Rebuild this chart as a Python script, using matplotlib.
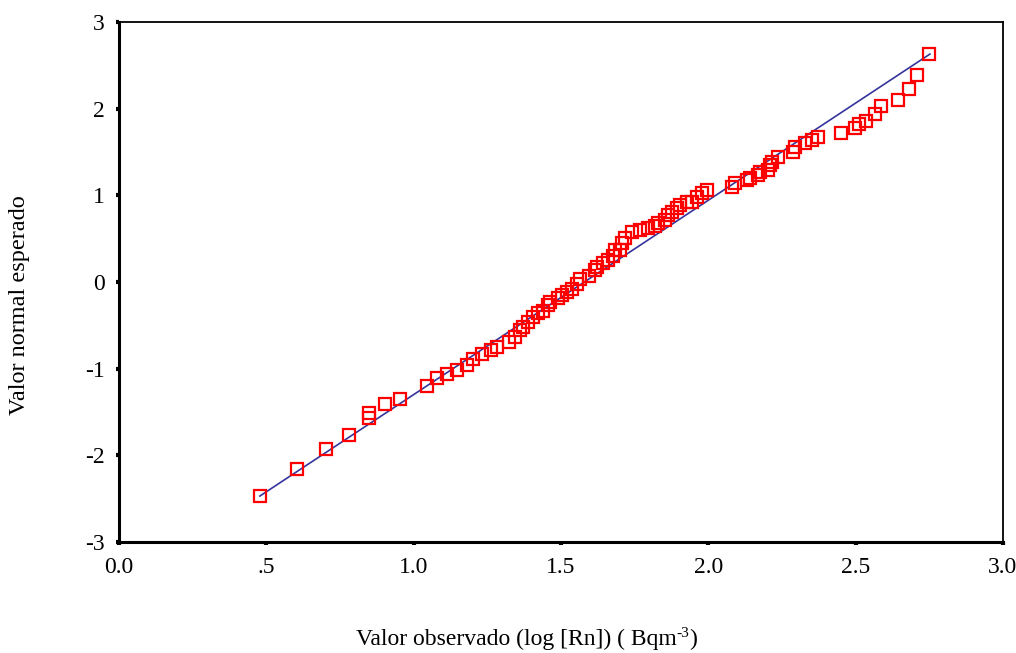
import matplotlib
matplotlib.use("Agg")
import matplotlib.pyplot as plt

observed = [0.478, 0.604, 0.702, 0.781, 0.848, 0.848, 0.903, 0.954, 1.045, 1.079,
            1.113, 1.147, 1.181, 1.201, 1.232, 1.262, 1.283, 1.324, 1.344, 1.361,
            1.371, 1.388, 1.405, 1.422, 1.439, 1.456, 1.463, 1.490, 1.503, 1.520,
            1.537, 1.554, 1.564, 1.595, 1.615, 1.622, 1.643, 1.659, 1.676, 1.683,
            1.700, 1.707, 1.717, 1.741, 1.768, 1.795, 1.819, 1.829, 1.853, 1.863,
            1.877, 1.894, 1.904, 1.928, 1.945, 1.962, 1.978, 1.995, 2.080, 2.090,
            2.131, 2.141, 2.169, 2.175, 2.202, 2.209, 2.216, 2.236, 2.287, 2.294,
            2.328, 2.352, 2.372, 2.450, 2.498, 2.511, 2.535, 2.566, 2.586, 2.644,
            2.681, 2.708, 2.749]
expected = [-2.47, -2.16, -1.93, -1.77, -1.51, -1.57, -1.41, -1.35, -1.20, -1.11,
            -1.06, -1.02, -0.96, -0.89, -0.83, -0.78, -0.75, -0.69, -0.63, -0.55,
            -0.52, -0.46, -0.40, -0.36, -0.33, -0.27, -0.23, -0.18, -0.15, -0.12,
            -0.08, -0.02, 0.03, 0.07, 0.14, 0.17, 0.22, 0.25, 0.30, 0.37,
            0.37, 0.45, 0.51, 0.58, 0.60, 0.62, 0.65, 0.68, 0.72, 0.77,
            0.81, 0.85, 0.89, 0.92, 0.92, 0.98, 1.03, 1.06, 1.10, 1.14,
            1.18, 1.20, 1.23, 1.27, 1.29, 1.35, 1.38, 1.44, 1.50, 1.56,
            1.60, 1.64, 1.67, 1.72, 1.78, 1.82, 1.86, 1.94, 2.03, 2.10,
            2.23, 2.39, 2.63]

# reference normal line end points
line_x = [0.478, 2.752]
line_y = [-2.47, 2.63]

x_ticks = [0.0, 0.5, 1.0, 1.5, 2.0, 2.5, 3.0]
x_labels = ["0.0", ".5", "1.0", "1.5", "2.0", "2.5", "3.0"]
y_ticks = [-3, -2, -1, 0, 1, 2, 3]

plt.rcParams['font.family'] = ['Liberation Serif', 'DejaVu Serif']
plt.rcParams['axes.unicode_minus'] = False

fig = plt.figure(figsize=(10.16, 6.53), dpi=100)
ax = fig.add_axes([0.1171, 0.170, 0.8701, 0.7963])

ax.plot(line_x, line_y, color='#34349c', linewidth=1.2, zorder=2)
ax.plot(observed, expected, linestyle='none', marker='s', markersize=8,
        markerfacecolor='none', markeredgecolor='#ff0000', markeredgewidth=1.6, zorder=3)

ax.set_xlim(0, 3)
ax.set_ylim(-3, 3)
ax.set_xticks(x_ticks)
ax.set_xticklabels(x_labels)
ax.set_yticks(y_ticks)
ax.tick_params(axis='both', direction='out', length=2.5, width=3, labelsize=17,
               colors='black')
ax.tick_params(axis='y', pad=8)
ax.tick_params(axis='x', pad=8)

for side in ['left', 'bottom']:
    ax.spines[side].set_linewidth(2.2)
for side in ['top', 'right']:
    ax.spines[side].set_linewidth(1.3)

# x label built from pieces so the superscript keeps a plain hyphen
fig.canvas.draw()
renderer = fig.canvas.get_renderer()
base_y = 1 - 645 / 653
t1 = fig.text(356 / 1016, base_y, "Valor observado (log [Rn]) ( Bqm",
              ha='left', va='baseline', fontsize=17)
x1 = t1.get_window_extent(renderer).x1 / 1016
t2 = fig.text(x1, base_y + 8 / 653, "-3", ha='left', va='baseline', fontsize=11)
x2 = t2.get_window_extent(renderer).x1 / 1016
fig.text(x2, base_y, ")", ha='left', va='baseline', fontsize=17)

fig.text(20 / 1016, 1 - 305 / 653, "Valor normal esperado", rotation=90,
         ha='center', va='center', fontsize=17.5)

fig.savefig("out.png", dpi=100)
